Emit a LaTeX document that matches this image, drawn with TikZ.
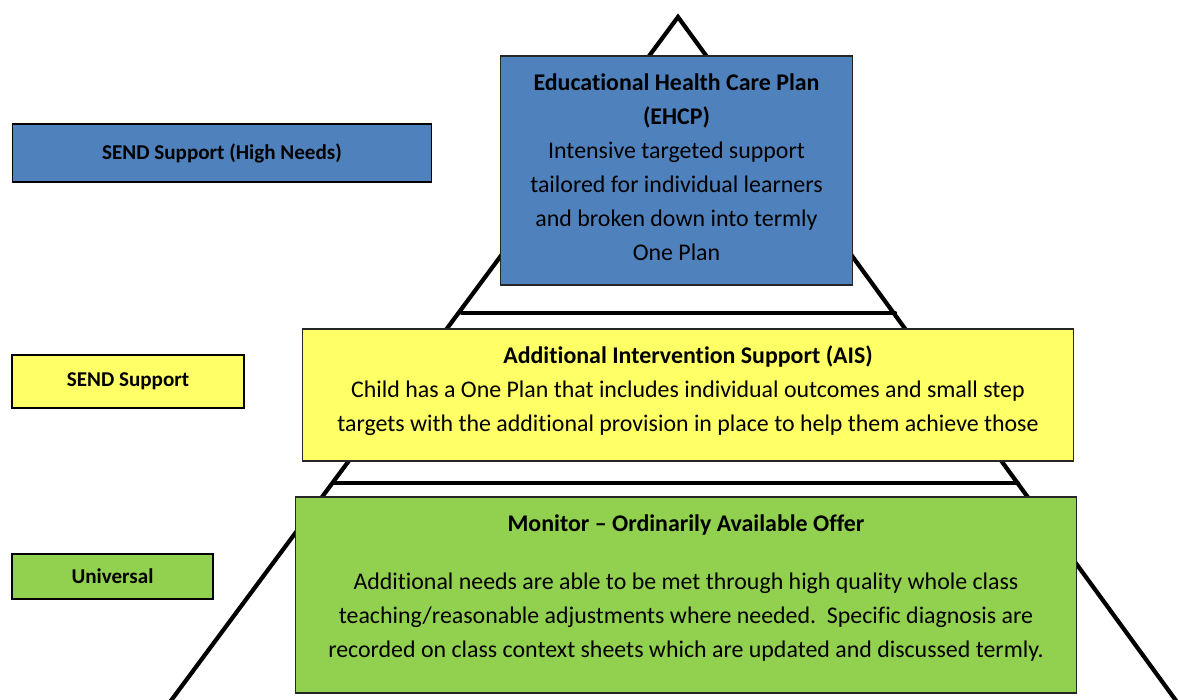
\documentclass[tikz,border=0pt]{standalone}
\usepackage{fontspec}
\setmainfont[Ligatures={NoCommon,NoRare}]{Carlito}
\usepackage{tikz}
\pgfdeclarelayer{bg}
\pgfsetlayers{bg,main}
\definecolor{hiblue}{HTML}{4F81BD}
\definecolor{aisyellow}{HTML}{FFFF66}
\definecolor{unigreen}{HTML}{92D050}
\tikzset{tierbox/.style={draw=black!85, line width=0.6pt, align=center, inner sep=0pt,
    font=\fontsize{13.6}{19.35}\selectfont},
  keybox/.style={draw=black, line width=0.6pt, align=center, inner sep=0pt,
    font=\fontsize{12}{14}\selectfont\bfseries},
  pyr/.style={line width=2.4pt, line cap=round, line join=miter}}

\begin{document}
\begin{tikzpicture}[x=0.02cm, y=-0.02cm]
    \useasboundingbox (0,0) rectangle (1178,700);

    \node (ehcp) at (676.5,170.5) [tierbox, fill=hiblue, minimum width=7.06cm, minimum height=4.58cm]
        {\textbf{Educational Health Care Plan}\\\textbf{(EHCP)}\\Intensive targeted support\\tailored for individual learners\\and broken down into termly\\One Plan\\[-15pt]};
    \node (ais) at (688,395) [tierbox, fill=aisyellow, minimum width=15.44cm, minimum height=2.64cm]
        {\textbf{Additional Intervention Support (AIS)}\\Child has a One Plan that includes individual outcomes and small step\\targets with the additional provision in place to help them achieve those\\[-12.5pt]};
    \node (monitor) at (686,595) [tierbox, fill=unigreen, minimum width=15.64cm, minimum height=3.92cm]
        {\textbf{Monitor – Ordinarily Available Offer}\\[14pt]Additional needs are able to be met through high quality whole class\\teaching/reasonable adjustments where needed.\ \ Specific diagnosis are\\recorded on class context sheets which are updated and discussed termly.\\[-9pt]};

    \node (high) at (222,153) [keybox, fill=hiblue, minimum width=8.4cm, minimum height=1.16cm] {SEND Support (High Needs)};
    \node (send) at (128,381.5) [keybox, fill=aisyellow, minimum width=4.64cm, minimum height=1.06cm] {SEND Support};
    \node (univ) at (112.5,576.5) [keybox, fill=unigreen, minimum width=4.02cm, minimum height=0.9cm] {Universal};

    \coordinate (apex) at (678,17);
    \coordinate (botL) at (170,702);
    \coordinate (botR) at (1177,702);
    \coordinate (upL) at (462,313);
    \coordinate (upR) at (895,313);
    \coordinate (loL) at (333,483);
    \coordinate (loR) at (1018,483);

    \begin{pgfonlayer}{bg}
        \draw[pyr] (botL) -- (apex) -- (botR);
        \draw[pyr] (upL) -- (upR);
        \draw[pyr] (loL) -- (loR);
    \end{pgfonlayer}
\end{tikzpicture}
\end{document}
